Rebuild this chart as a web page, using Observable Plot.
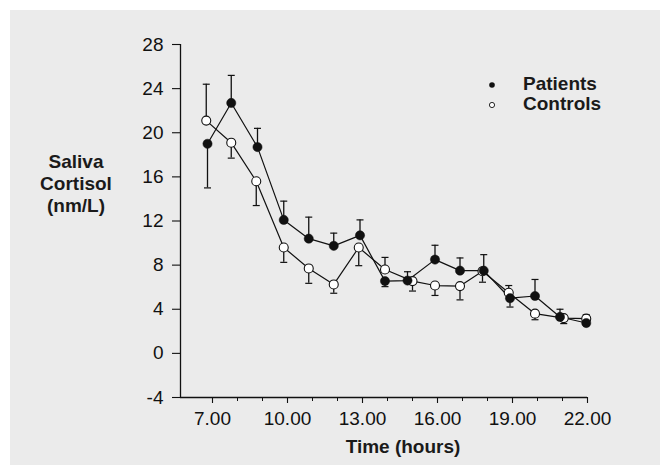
<!DOCTYPE html>
<html><head><meta charset="utf-8">
<script src="https://cdn.jsdelivr.net/npm/d3@7"></script>
<script src="https://cdn.jsdelivr.net/npm/@observablehq/plot@0.6"></script>
<style>
html,body{margin:0;padding:0;background:#fff;}
#wrap{position:relative;width:660px;height:465px;overflow:hidden;}
#bg{position:absolute;left:10px;top:10px;width:650px;height:455px;background:#ebebeb;}
#chart{position:absolute;left:0;top:0;}
.lbl{position:absolute;font-family:"Liberation Sans",Arial,sans-serif;font-weight:bold;font-size:19px;line-height:22px;color:#1a1a1a;white-space:nowrap;}
</style>
</head><body>
<div id="wrap">
  <div id="bg"></div>
  <div id="chart"></div>
  <div class="lbl" style="left:26px;top:151px;width:100px;text-align:center;">Saliva<br>Cortisol<br>(nm/L)</div>
  <div class="lbl" style="left:303px;top:436px;width:200px;text-align:center;">Time (hours)</div>
  <div class="lbl" style="left:486px;top:73px;"><svg width="12" height="12" style="vertical-align:middle;margin-right:25px"><circle cx="6" cy="6" r="2.8" fill="#111"/></svg>Patients</div>
  <div class="lbl" style="left:486px;top:93px;"><svg width="12" height="12" style="vertical-align:middle;margin-right:25px"><circle cx="6" cy="6" r="2.6" fill="#fff" stroke="#111" stroke-width="0.9"/></svg>Controls</div>
</div>
<script>
// Time of sampling (hours)
const hoursP = [6.8, 7.75, 8.8, 9.85, 10.85, 11.85, 12.9, 13.9, 14.8, 15.9, 16.9, 17.85, 18.9, 19.9, 20.9, 21.95];
const hoursC = [6.75, 7.75, 8.75, 9.85, 10.85, 11.85, 12.85, 13.9, 15.0, 15.9, 16.9, 17.8, 18.85, 19.9, 21.05, 21.95];
// Saliva cortisol means (nm/L)
const patients = [19.0, 22.7, 18.7, 12.1, 10.4, 9.75, 10.7, 6.55, 6.6, 8.5, 7.5, 7.5, 5.0, 5.2, 3.3, 2.75];
const controls = [21.1, 19.1, 15.6, 9.6, 7.7, 6.25, 9.6, 7.6, 6.55, 6.15, 6.1, 7.45, 5.5, 3.6, 3.2, 3.15];
// One-sided error bars (signed: + drawn up, - drawn down)
const errP = [-4.0, 2.5, 1.7, 1.7, 1.95, 1.15, 1.4, -0.5, 0.8, 1.3, 1.15, 1.45, -0.8, 1.5, 0.7, -0.2];
const errC = [3.3, -1.4, -2.2, -1.35, -1.35, -0.8, -1.65, 1.1, -0.9, -0.9, -1.25, -1.0, 0.65, -0.55, -0.5, 0.35];
// Axis ticks
const yTicks = [-4, 0, 4, 8, 12, 16, 20, 24, 28];
const xMajor = [7, 10, 13, 16, 19, 22];
const xMinor = [7, 8, 9, 10, 11, 12, 13, 14, 15, 16, 17, 18, 19, 20, 21, 22];
const xDomain = [5.72, 22];
const yDomain = [-4, 28];

const P = hoursP.map((h, i) => ({h, v: patients[i], e: errP[i]}));
const C = hoursC.map((h, i) => ({h, v: controls[i], e: errC[i]}));

const ink = "#111";
const cap = {draw(ctx) { ctx.moveTo(-3.5, 0); ctx.lineTo(3.5, 0); }};

const chart = Plot.plot({
  width: 660, height: 465,
  marginLeft: 180, marginRight: 73, marginTop: 44, marginBottom: 68,
  style: {background: "transparent", fontFamily: "'Liberation Sans', Arial, sans-serif", fontSize: "19px", color: ink},
  x: {domain: xDomain},
  y: {domain: yDomain},
  marks: [
    Plot.ruleY([yDomain[0]], {stroke: ink, strokeWidth: 1.3}),
    Plot.ruleX([xDomain[0]], {stroke: ink, strokeWidth: 1.3}),
    Plot.axisY({ticks: yTicks, tickSize: 8, tickPadding: 9, label: null, stroke: ink, strokeWidth: 1.1, fontSize: 19, tickFormat: d => String(d)}),
    Plot.axisX({ticks: xMinor, tickSize: 4, tickFormat: () => "", label: null, stroke: ink}),
    Plot.axisX({ticks: xMajor, tickSize: 6, tickPadding: 8, tickFormat: d => d.toFixed(2), label: null, stroke: ink, strokeWidth: 1.1, fontSize: 19}),
    // error bars
    Plot.ruleX(P, {x: "h", y1: "v", y2: d => d.v + d.e, stroke: ink, strokeWidth: 1.3}),
    Plot.dot(P, {x: "h", y: d => d.v + d.e, symbol: cap, stroke: ink, strokeWidth: 1.2}),
    Plot.ruleX(C, {x: "h", y1: "v", y2: d => d.v + d.e, stroke: ink, strokeWidth: 1.3}),
    Plot.dot(C, {x: "h", y: d => d.v + d.e, symbol: cap, stroke: ink, strokeWidth: 1.2}),
    // lines
    Plot.line(P, {x: "h", y: "v", stroke: ink, strokeWidth: 1.2}),
    Plot.line(C, {x: "h", y: "v", stroke: ink, strokeWidth: 1.2}),
    // points
    Plot.dot(C, {x: "h", y: "v", r: 4.5, fill: "#fff", stroke: ink, strokeWidth: 1.1}),
    Plot.dot(P, {x: "h", y: "v", r: 4.6, fill: ink, stroke: ink, strokeWidth: 0.5})
  ]
});
document.getElementById("chart").appendChild(chart);
</script>
</body></html>
